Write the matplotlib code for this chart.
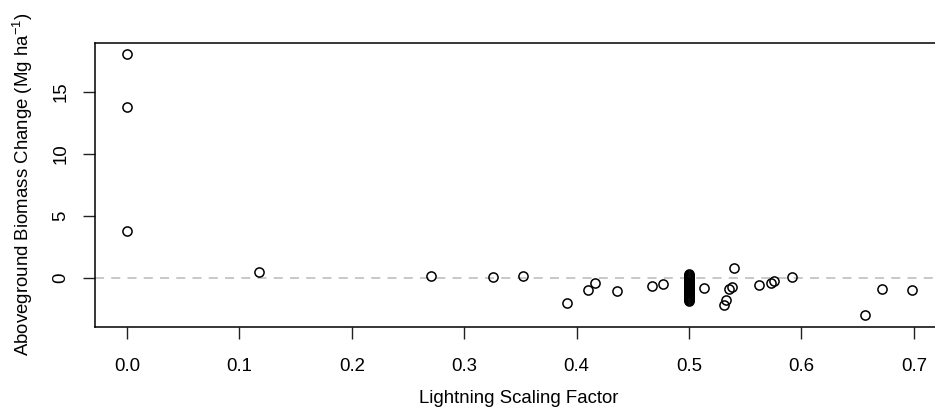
import matplotlib
matplotlib.use("Agg")
import matplotlib.pyplot as plt

# lightning scaling factor vs aboveground biomass change
scaling = [0.0, 0.0, 0.0, 0.117, 0.270, 0.326, 0.352, 0.391, 0.410, 0.416,
           0.436, 0.467, 0.477, 0.513, 0.531, 0.533, 0.536, 0.538, 0.540,
           0.562, 0.573, 0.576, 0.592, 0.657, 0.672, 0.698]
biomass = [18.06, 13.8, 3.74, 0.44, 0.16, 0.08, 0.14, -2.0, -1.0, -0.42,
           -1.07, -0.67, -0.48, -0.86, -2.17, -1.8, -0.89, -0.78, 0.78,
           -0.59, -0.45, -0.24, 0.06, -3.03, -0.91, -1.02]

# the dense stack of sites sitting exactly at 0.5
cluster_x = 0.5
cluster_y = [0.3, 0.22, 0.14, 0.06, -0.02, -0.1, -0.18, -0.26, -0.34, -0.42,
             -0.5, -0.58, -0.66, -0.74, -0.82, -0.9, -0.98, -1.06, -1.14,
             -1.22, -1.3, -1.38, -1.46, -1.54, -1.62, -1.7, -1.78, -1.85]

xticks = [0.0, 0.1, 0.2, 0.3, 0.4, 0.5, 0.6, 0.7]
yticks = [0, 5, 10, 15]

plt.rcParams["font.family"] = ["Liberation Sans", "DejaVu Sans"]
plt.rcParams["mathtext.default"] = "regular"

fig = plt.figure(figsize=(9.35, 4.08), dpi=100)
ax = fig.add_axes([0.1016, 0.1993, 0.907, 0.6961])

ax.axhline(0, color="#c4c4c4", lw=1.3, ls=(0, (5, 4)), zorder=1)

all_x = scaling + [cluster_x] * len(cluster_y)
all_y = biomass + cluster_y
ax.plot(all_x, all_y, ls="none", marker="o", ms=6.6, mfc="none",
        mec="black", mew=1.1, zorder=2)

ax.set_xlim(-0.0285, 0.726)
ax.set_ylim(-3.95, 18.95)
ax.set_xticks(xticks)
ax.set_xticklabels([f"{v:.1f}" for v in xticks])
ax.set_yticks(yticks)
ax.set_yticklabels([str(v) for v in yticks], rotation=90, va="center")

ax.tick_params(direction="out", length=8.6, width=1.0, labelsize=13.4,
               color="#222222")
ax.tick_params(axis="x", pad=14)
ax.tick_params(axis="y", pad=10)
for s in ax.spines.values():
    s.set_linewidth(1.1)

ax.set_xlabel("Lightning Scaling Factor", fontsize=13.4, labelpad=11)
ax.set_ylabel(r"Aboveground Biomass Change (Mg ha$^{-1}$)", fontsize=13.4,
              labelpad=12)

fig.savefig("out.png", dpi=100)
